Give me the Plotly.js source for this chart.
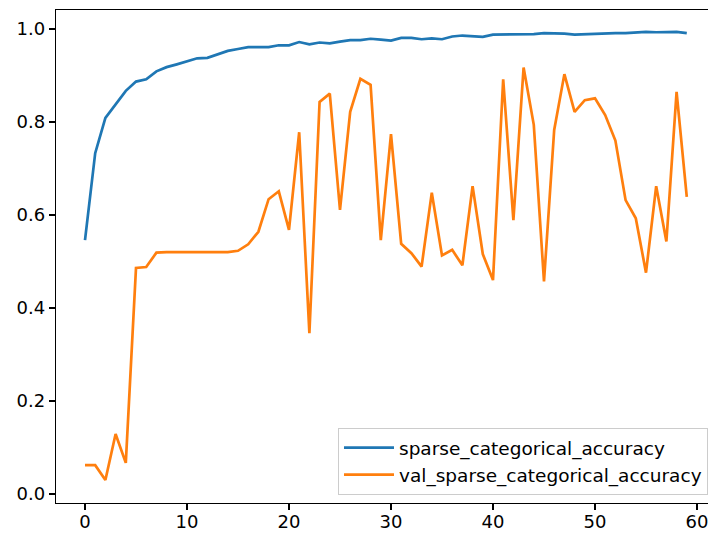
<!DOCTYPE html>
<html>
<head>
<meta charset="utf-8">
<script src="https://cdn.plot.ly/plotly-3.0.1.min.js"></script>
<style>html,body{margin:0;padding:0;background:#fff;}#chart{width:708px;height:534px;}</style>
</head>
<body>
<div id="chart"></div>
<script>
const epochs = Array.from({length: 60}, (_, i) => i);
const trainAcc = [0.546, 0.733, 0.809, 0.839, 0.867, 0.887, 0.892, 0.909, 0.918, 0.924,
  0.930, 0.937, 0.938, 0.945, 0.953, 0.957, 0.961, 0.961, 0.961, 0.965,
  0.965, 0.972, 0.967, 0.971, 0.969, 0.973, 0.976, 0.976, 0.979, 0.977,
  0.975, 0.981, 0.981, 0.978, 0.980, 0.978, 0.984, 0.986, 0.985, 0.983,
  0.988, 0.988, 0.988, 0.988, 0.989, 0.991, 0.991, 0.990, 0.988, 0.989,
  0.990, 0.991, 0.991, 0.991, 0.992, 0.994, 0.993, 0.993, 0.994, 0.991];
const valAcc = [0.062, 0.062, 0.030, 0.129, 0.067, 0.486, 0.488, 0.519, 0.520, 0.520,
  0.520, 0.520, 0.520, 0.520, 0.520, 0.523, 0.537, 0.564, 0.634, 0.651,
  0.568, 0.778, 0.346, 0.843, 0.861, 0.611, 0.822, 0.893, 0.880, 0.546,
  0.774, 0.538, 0.518, 0.489, 0.648, 0.513, 0.525, 0.492, 0.662, 0.516,
  0.460, 0.892, 0.589, 0.917, 0.794, 0.457, 0.783, 0.903, 0.822, 0.847,
  0.851, 0.815, 0.760, 0.632, 0.593, 0.476, 0.662, 0.543, 0.865, 0.639];
const seriesNames = ["sparse_categorical_accuracy", "val_sparse_categorical_accuracy"];
const xTicks = [0, 10, 20, 30, 40, 50, 60];
const yTicks = [0.0, 0.2, 0.4, 0.6, 0.8, 1.0];
const yTickText = ["0.0", "0.2", "0.4", "0.6", "0.8", "1.0"];

const traces = [
  {x: epochs, y: trainAcc, name: seriesNames[0], type: "scatter", mode: "lines",
   line: {color: "#1f77b4", width: 2.7}},
  {x: epochs, y: valAcc, name: seriesNames[1], type: "scatter", mode: "lines",
   line: {color: "#ff7f0e", width: 2.7}}
];

const font = {family: "DejaVu Sans, sans-serif", size: 18, color: "#000"};
const layout = {
  width: 708, height: 534,
  margin: {l: 56, r: 0, t: 10, b: 31, pad: 0},
  paper_bgcolor: "#fff", plot_bgcolor: "#fff",
  font: font,
  showlegend: true,
  xaxis: {
    range: [-2.843, 61.08], tickvals: xTicks, ticktext: xTicks.map(String),
    showgrid: false, zeroline: false, showline: true, mirror: true,
    linecolor: "#000", linewidth: 1.3, ticks: "outside", ticklen: 6, tickwidth: 1.3,
    tickcolor: "#000", tickfont: font, ticklabelstandoff: -4, ticklabeloverflow: "allow"
  },
  yaxis: {
    range: [-0.0194, 1.0409], tickvals: yTicks, ticktext: yTickText,
    showgrid: false, zeroline: false, showline: true, mirror: false,
    linecolor: "#000", linewidth: 1.3, ticks: "outside", ticklen: 6, tickwidth: 1.3,
    tickcolor: "#000", tickfont: font
  },
  legend: {
    x: 0.4325, xanchor: "left", y: 0.152, yanchor: "top",
    itemwidth: 50,
    bgcolor: "rgba(255,255,255,0.8)", bordercolor: "#cccccc", borderwidth: 1,
    font: {family: "DejaVu Sans, sans-serif", size: 18.5, color: "#000"}
  }
};

Plotly.newPlot("chart", traces, layout, {staticPlot: true, displayModeBar: false});
</script>
</body>
</html>
